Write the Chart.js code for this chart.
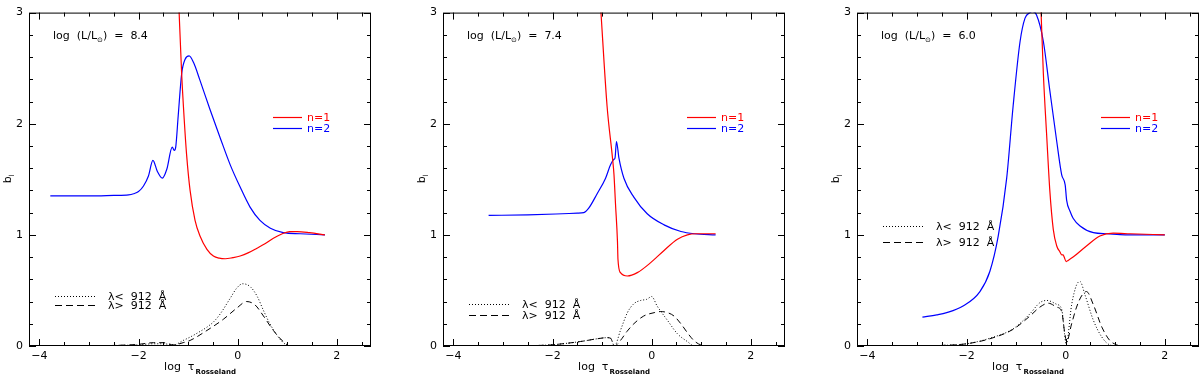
<!DOCTYPE html>
<html>
<head>
<meta charset="utf-8">
<script src="https://cdn.jsdelivr.net/npm/chart.js@4"></script>
<style>
  body { margin: 0; background: #fff; }
  .panel { position: absolute; top: 0; width: 372px; height: 375px; }
</style>
</head>
<body>
<div class="panel" style="left:0px"><canvas id="c1" width="372" height="375"></canvas></div>
<div class="panel" style="left:414px"><canvas id="c2" width="372" height="375"></canvas></div>
<div class="panel" style="left:828px"><canvas id="c3" width="372" height="375"></canvas></div>
<script>
// valeurs : log tau_Rosseland (x) et b_l (y)
const luminosites = ['8.4', '7.4', '6.0'];
const xTicks = [-4, -2, 0, 2];
const yTicks = [0, 1, 2, 3];

// panneau 1 : log L = 8.4
const p1N1x = [-1.19, -1.13, -1.08, -1.03, -0.96, -0.86, -0.76, -0.62, -0.49, -0.37, -0.25, -0.10, 0.05, 0.22, 0.39, 0.55, 0.72, 0.90, 1.05, 1.20, 1.45, 1.76];
const p1N1y = [3.10, 2.45, 2.05, 1.72, 1.40, 1.13, 0.99, 0.87, 0.81, 0.79, 0.785, 0.795, 0.81, 0.84, 0.88, 0.92, 0.97, 1.01, 1.03, 1.03, 1.02, 1.00];
const p1N2x = [-3.78, -3.0, -2.5, -2.2, -2.1, -2.0, -1.9, -1.8, -1.71, -1.62, -1.52, -1.43, -1.32, -1.28, -1.25, -1.20, -1.13, -1.06, -0.98, -0.89, -0.76, -0.56, -0.35, -0.15, 0.05, 0.25, 0.45, 0.66, 0.92, 1.26, 1.76];
const p1N2y = [1.35, 1.35, 1.355, 1.36, 1.37, 1.39, 1.44, 1.53, 1.67, 1.57, 1.51, 1.59, 1.79, 1.76, 1.79, 2.07, 2.45, 2.58, 2.61, 2.55, 2.39, 2.13, 1.87, 1.63, 1.43, 1.25, 1.13, 1.06, 1.02, 1.01, 1.00];
const p1Dotx = [-3.8, -3.0, -2.5, -2.0, -1.7, -1.5, -1.29, -1.1, -0.96, -0.8, -0.62, -0.48, -0.35, -0.15, -0.02, 0.10, 0.25, 0.39, 0.52, 0.65, 0.79, 0.92, 1.06, 1.3];
const p1Doty = [0, 0, 0.005, 0.01, 0.02, 0.02, 0.01, 0.05, 0.08, 0.12, 0.17, 0.22, 0.29, 0.43, 0.52, 0.56, 0.535, 0.45, 0.32, 0.20, 0.10, 0.03, 0, 0];
const p1Dashx = [-3.8, -3.0, -2.5, -2.0, -1.7, -1.5, -1.29, -1.1, -0.96, -0.62, -0.29, -0.02, 0.18, 0.35, 0.52, 0.72, 0.92, 1.06, 1.3];
const p1Dashy = [0, 0, 0.005, 0.015, 0.03, 0.03, 0.01, 0.03, 0.05, 0.14, 0.24, 0.34, 0.40, 0.37, 0.27, 0.14, 0.04, 0, 0];

// panneau 2 : log L = 7.4
const p2N1x = [-1.03, -0.90, -0.79, -0.76, -0.73, -0.69, -0.68, -0.63, -0.49, -0.29, -0.02, 0.25, 0.52, 0.72, 0.90, 1.29];
const p2N1y = [3.05, 2.16, 1.69, 1.54, 1.28, 0.94, 0.78, 0.66, 0.63, 0.66, 0.75, 0.86, 0.96, 1.00, 1.01, 1.01];
const p2N2x = [-3.29, -2.5, -1.8, -1.5, -1.37, -1.27, -1.10, -0.93, -0.83, -0.76, -0.74, -0.71, -0.66, -0.56, -0.36, -0.09, 0.25, 0.59, 0.86, 1.29];
const p2N2y = [1.175, 1.18, 1.19, 1.195, 1.20, 1.24, 1.37, 1.51, 1.63, 1.68, 1.69, 1.84, 1.69, 1.51, 1.34, 1.19, 1.09, 1.03, 1.01, 1.00];
const p2Dotx = [-3.3, -2.5, -2.04, -1.44, -1.10, -0.90, -0.83, -0.75, -0.63, -0.49, -0.36, -0.22, -0.10, 0.0, 0.11, 0.32, 0.52, 0.72, 0.86, 1.2];
const p2Doty = [0, 0.003, 0.01, 0.04, 0.065, 0.075, 0.07, 0.0, 0.14, 0.30, 0.38, 0.41, 0.42, 0.445, 0.36, 0.23, 0.11, 0.04, 0, 0];
const p2Dashx = [-3.3, -2.5, -2.04, -1.44, -1.10, -0.90, -0.83, -0.75, -0.63, -0.50, -0.36, -0.16, 0.05, 0.18, 0.32, 0.45, 0.59, 0.72, 0.85, 0.99, 1.2];
const p2Dashy = [0, 0.003, 0.01, 0.04, 0.065, 0.075, 0.07, 0.0, 0.05, 0.13, 0.20, 0.27, 0.30, 0.31, 0.30, 0.27, 0.20, 0.12, 0.05, 0.01, 0];

// panneau 3 : log L = 6.0
const p3N1x = [-0.50, -0.45, -0.38, -0.32, -0.25, -0.18, -0.12, -0.08, -0.05, -0.03, 0.01, 0.05, 0.15, 0.42, 0.69, 0.96, 1.3, 2.0];
const p3N1y = [3.05, 2.45, 1.87, 1.40, 1.05, 0.90, 0.85, 0.82, 0.82, 0.80, 0.76, 0.77, 0.80, 0.90, 0.99, 1.015, 1.01, 1.00];
const p3N2x = [-2.89, -2.6, -2.40, -2.07, -1.73, -1.53, -1.36, -1.19, -1.06, -0.92, -0.82, -0.72, -0.67, -0.59, -0.45, -0.32, -0.18, -0.08, -0.01, 0.02, 0.09, 0.15, 0.29, 0.56, 0.83, 1.2, 2.0];
const p3N2y = [0.26, 0.28, 0.30, 0.36, 0.49, 0.67, 0.99, 1.51, 2.16, 2.74, 2.95, 3.0, 3.01, 2.98, 2.74, 2.30, 1.84, 1.54, 1.45, 1.31, 1.21, 1.15, 1.08, 1.02, 1.01, 1.00, 1.00];
const p3Dotx = [-2.94, -2.5, -2.0, -1.53, -1.06, -0.72, -0.52, -0.38, -0.18, -0.08, -0.02, 0.01, 0.12, 0.22, 0.29, 0.39, 0.56, 0.73, 0.89, 1.05];
const p3Doty = [0, 0.005, 0.02, 0.07, 0.155, 0.29, 0.39, 0.41, 0.375, 0.33, 0.10, 0.01, 0.37, 0.55, 0.58, 0.46, 0.23, 0.08, 0.01, 0];
const p3Dashx = [-2.94, -2.5, -2.0, -1.53, -1.06, -0.72, -0.52, -0.35, -0.18, -0.08, -0.02, 0.02, 0.12, 0.22, 0.32, 0.42, 0.56, 0.73, 0.89, 1.03, 1.1];
const p3Dashy = [0, 0.005, 0.02, 0.065, 0.15, 0.27, 0.35, 0.385, 0.35, 0.31, 0.12, 0.04, 0.20, 0.35, 0.45, 0.49, 0.37, 0.17, 0.05, 0.01, 0];

const FONT = '"DejaVu Sans", sans-serif';

function pts(xs, ys) {
    return xs.map((x, i) => ({ x: x, y: ys[i] }));
}

function courbe(xs, ys, couleur, dash, epaisseur) {
    return {
        data: pts(xs, ys),
        showLine: true,
        borderColor: couleur,
        borderWidth: epaisseur,
        borderDash: dash,
        pointRadius: 0,
        cubicInterpolationMode: 'monotone'
    };
}

// cadre, petites graduations vers l'interieur, titres et legendes
const cadrePlugin = {
    id: 'cadre',
    afterDraw(chart, args, opts) {
        const ctx = chart.ctx;
        const a = chart.chartArea;
        const sx = chart.scales.x, sy = chart.scales.y;
        ctx.save();
        ctx.strokeStyle = '#000';
        ctx.lineWidth = 1;
        ctx.strokeRect(a.left + 0.5, a.top + 0.5, a.right - a.left - 1, a.bottom - a.top - 1);

        ctx.beginPath();
        for (let v = -4; v <= 2.5001; v += 0.5) {
            let px = Math.round(sx.getPixelForValue(v)) + 0.5;
            let len = Math.abs(v % 2) < 1e-6 ? 7 : 4;
            ctx.moveTo(px, a.bottom); ctx.lineTo(px, a.bottom - len);
            ctx.moveTo(px, a.top); ctx.lineTo(px, a.top + len);
        }
        for (let k = 0; k <= 15; k++) {
            let v = k * 0.2;
            let py = Math.round(sy.getPixelForValue(v)) + 0.5;
            let len = k % 5 === 0 ? 7 : 4;
            ctx.moveTo(a.left, py); ctx.lineTo(a.left + len, py);
            ctx.moveTo(a.right, py); ctx.lineTo(a.right - len, py);
        }
        ctx.stroke();

        ctx.fillStyle = '#000';
        ctx.textBaseline = 'alphabetic';

        // titre axe x : log tau_Rosseland
        let cx = (a.left + a.right) / 2;
        ctx.font = '11px ' + FONT;
        let t1 = 'log  \u03c4';
        let w1 = ctx.measureText(t1).width;
        ctx.font = 'bold 7px ' + FONT;
        let w2 = ctx.measureText('Rosseland').width;
        let x0 = cx - (w1 + w2 + 1) / 2;
        ctx.font = '11px ' + FONT;
        ctx.fillText(t1, x0, 370);
        ctx.font = 'bold 7px ' + FONT;
        ctx.fillText('Rosseland', x0 + w1 + 1, 374);

        // titre axe y : b_l
        ctx.save();
        ctx.translate(11, (a.top + a.bottom) / 2);
        ctx.rotate(-Math.PI / 2);
        ctx.font = '11px ' + FONT;
        ctx.fillText('b', -4, 0);
        ctx.font = '7px ' + FONT;
        ctx.fillText('l', 3, 3);
        ctx.restore();

        // log (L/Lsun) = ...
        let tx = a.left + 24, ty = 39;
        ctx.font = '11px ' + FONT;
        ctx.fillText('log  (L/L', tx, ty);
        tx += ctx.measureText('log  (L/L').width;
        ctx.font = '7px ' + FONT;
        ctx.fillText('\u2299', tx, ty + 3);
        tx += ctx.measureText('\u2299').width;
        ctx.font = '11px ' + FONT;
        ctx.fillText(')  =  ' + opts.lum, tx, ty);

        // legende n=1 / n=2
        ctx.lineWidth = 1.2;
        ctx.strokeStyle = '#ff0000';
        ctx.beginPath(); ctx.moveTo(a.left + 244, 117.5); ctx.lineTo(a.left + 273, 117.5); ctx.stroke();
        ctx.strokeStyle = '#0000ff';
        ctx.beginPath(); ctx.moveTo(a.left + 244, 128.5); ctx.lineTo(a.left + 273, 128.5); ctx.stroke();
        ctx.font = '11px ' + FONT;
        ctx.fillStyle = '#ff0000';
        ctx.fillText('n=1', a.left + 278, 121);
        ctx.fillStyle = '#0000ff';
        ctx.fillText('n=2', a.left + 278, 132);

        // legende lambda
        ctx.strokeStyle = '#000';
        ctx.lineWidth = 1;
        ctx.fillStyle = '#000';
        let y1 = opts.lamY[0], y2 = opts.lamY[1];
        ctx.setLineDash([1, 2]);
        ctx.beginPath(); ctx.moveTo(a.left + 26, y1 + 0.5); ctx.lineTo(a.left + 68, y1 + 0.5); ctx.stroke();
        ctx.setLineDash([7, 4]);
        ctx.beginPath(); ctx.moveTo(a.left + 26, y2 + 0.5); ctx.lineTo(a.left + 68, y2 + 0.5); ctx.stroke();
        ctx.setLineDash([]);
        ctx.fillText('\u03bb<  912  \u00c5', a.left + 79, y1 + 4);
        ctx.fillText('\u03bb>  912  \u00c5', a.left + 79, y2 + 4);
        ctx.restore();
    }
};

function dessiner(id, series, lum, lamY) {
    const ctx = document.getElementById(id).getContext('2d');
    new Chart(ctx, {
        type: 'scatter',
        data: {
            datasets: [
                courbe(series[0], series[1], '#ff0000', [], 1.2),
                courbe(series[2], series[3], '#0000ff', [], 1.2),
                courbe(series[4], series[5], '#000000', [1, 2], 1),
                courbe(series[6], series[7], '#000000', [6, 4], 1)
            ]
        },
        options: {
            responsive: false,
            animation: false,
            devicePixelRatio: 1,
            layout: { padding: { top: 4, right: 1, left: 0, bottom: 0 } },
            plugins: {
                legend: { display: false },
                tooltip: { enabled: false },
                cadre: { lum: lum, lamY: lamY }
            },
            scales: {
                x: {
                    type: 'linear',
                    min: -4.21,
                    max: 2.69,
                    grid: { display: false, drawTicks: false },
                    border: { display: false },
                    afterFit: (s) => { s.height = 29; },
                    ticks: {
                        stepSize: 0.5,
                        includeBounds: false,
                        autoSkip: false,
                        maxRotation: 0,
                        padding: 4,
                        color: '#000',
                        font: { family: FONT, size: 11 },
                        callback: (v) => xTicks.includes(v) ? String(v).replace('-', '\u2212') : ''
                    }
                },
                y: {
                    min: 0,
                    max: 3,
                    grid: { display: false, drawTicks: false },
                    border: { display: false },
                    afterFit: (s) => { s.width = 29; },
                    ticks: {
                        stepSize: 0.2,
                        autoSkip: false,
                        padding: 6,
                        color: '#000',
                        font: { family: FONT, size: 11 },
                        callback: (v) => {
                            let r = Math.round(v);
                            return (Math.abs(v - r) < 1e-6 && yTicks.includes(r)) ? String(r) : '';
                        }
                    }
                }
            }
        },
        plugins: [cadrePlugin]
    });
}

dessiner('c1', [p1N1x, p1N1y, p1N2x, p1N2y, p1Dotx, p1Doty, p1Dashx, p1Dashy], luminosites[0], [296, 305]);
dessiner('c2', [p2N1x, p2N1y, p2N2x, p2N2y, p2Dotx, p2Doty, p2Dashx, p2Dashy], luminosites[1], [304, 315]);
dessiner('c3', [p3N1x, p3N1y, p3N2x, p3N2y, p3Dotx, p3Doty, p3Dashx, p3Dashy], luminosites[2], [226, 242]);
</script>
</body>
</html>
